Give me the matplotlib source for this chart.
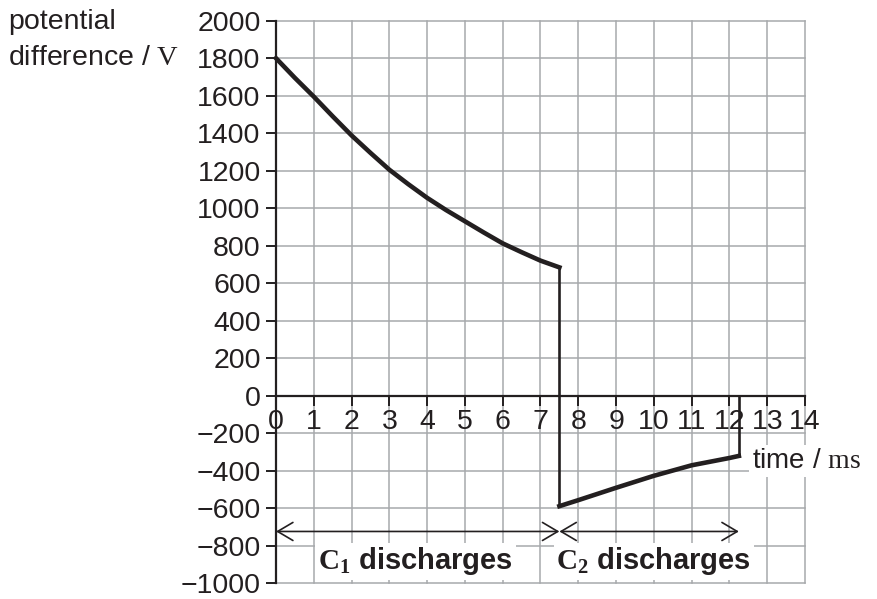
import matplotlib.pyplot as plt

plt.rcParams['font.family'] = ['Liberation Sans', 'DejaVu Sans']
plt.rcParams['mathtext.fontset'] = 'custom'
plt.rcParams['mathtext.rm'] = 'Liberation Serif'
plt.rcParams['mathtext.bf'] = 'Liberation Serif:bold'
plt.rcParams['mathtext.it'] = 'Liberation Serif:italic'

# C1 discharging (time in ms, p.d. in V)
t_c1 = [0, 0.5, 1, 1.5, 2, 2.5, 3, 3.5, 4, 4.5, 5, 5.5, 6, 6.5, 7, 7.5]
v_c1 = [1800, 1695, 1595, 1490, 1388, 1295, 1205, 1128, 1055, 990, 930, 870, 812, 765, 720, 684]

# C2 discharging
t_c2 = [7.5, 8, 9, 10, 11, 12, 12.25]
v_c2 = [-590, -558, -492, -428, -372, -333, -322]

x_ticks = list(range(0, 15))
y_ticks = list(range(-1000, 2001, 200))

ink = '#231f20'
grid_col = '#a7a9ac'

fig = plt.figure(figsize=(8.77, 5.99), dpi=100)
ax = fig.add_axes([0.3147, 0.0267, 0.6032, 0.9387])
ax.set_xlim(0, 14)
ax.set_ylim(-1000, 2000)

# grid drawn by hand so the edge lines are not clipped
for x in x_ticks:
    ax.axvline(x, color=grid_col, lw=1.1, zorder=0, clip_on=False)
for y in y_ticks:
    ax.axhline(y, color=grid_col, lw=1.1, zorder=0, clip_on=False)

ax.spines['top'].set_visible(False)
ax.spines['right'].set_visible(False)
ax.spines['bottom'].set_position(('data', 0))
for s in ('left', 'bottom'):
    ax.spines[s].set_linewidth(1.6)
    ax.spines[s].set_color(ink)
    ax.spines[s].set_zorder(4)

ax.set_xticks(x_ticks)
ax.set_yticks(y_ticks)
ax.tick_params(axis='both', direction='out', length=7, width=1.4, color=ink,
               labelsize=20.5, labelcolor=ink)
ax.tick_params(axis='y', pad=4)
ax.tick_params(axis='x', pad=3)

# the curves and the switching jumps
ax.plot(t_c1, v_c1, color=ink, lw=3.3, zorder=5, clip_on=False)
ax.plot([t_c1[-1], t_c2[0]], [v_c1[-1], v_c2[0]], color=ink, lw=1.9, zorder=5)
ax.plot(t_c2, v_c2, color=ink, lw=3.3, zorder=5)
ax.plot([t_c2[-1], t_c2[-1]], [v_c2[-1], 0], color=ink, lw=1.9, zorder=5)

# discharge interval arrows
arrow_y = -725
for a, b in [(t_c1[0], t_c1[-1]), (t_c2[0], t_c2[-1])]:
    ax.annotate('', xy=(b, arrow_y), xytext=(a, arrow_y),
                arrowprops=dict(arrowstyle='<->,head_length=1.1,head_width=0.65',
                                lw=1.2, color=ink, shrinkA=0, shrinkB=0,
                                mutation_scale=10),
                zorder=6)

box = dict(facecolor='white', edgecolor='none', pad=2)
ax.text(3.7, -885, r'$\mathbf{C}_{\mathbf{1}}$ discharges', fontsize=21, fontweight='bold',
        color=ink, ha='center', va='center', bbox=box, zorder=3)
ax.text(10.0, -885, r'$\mathbf{C}_{\mathbf{2}}$ discharges', fontsize=21, fontweight='bold',
        color=ink, ha='center', va='center', bbox=box, zorder=3)

ax.text(12.6, -385, r'time / $\mathrm{ms}$', fontsize=20, color=ink, ha='left',
        va='baseline', bbox=box, zorder=3, clip_on=False)

fig.text(8 / 877, 1 - 29 / 599, 'potential', fontsize=20.5, color=ink, va='baseline')
fig.text(8 / 877, 1 - 65 / 599, r'difference / $\mathrm{V}$', fontsize=20.5, color=ink, va='baseline')

fig.savefig('out.png', dpi=100)
